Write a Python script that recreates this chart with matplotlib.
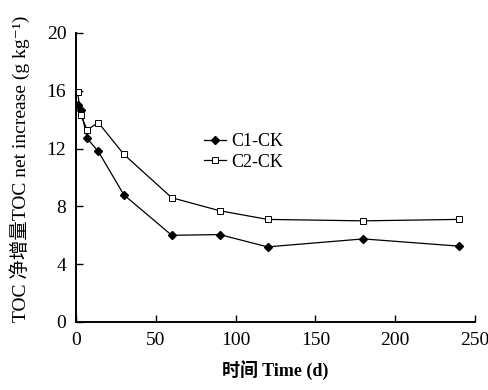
import matplotlib.pyplot as plt

# === Data ===
days = [1, 3, 7, 14, 30, 60, 90, 120, 180, 240]
c1_ck = [15.0, 14.7, 12.7, 11.8, 8.8, 6.0, 6.05, 5.2, 5.75, 5.25]
c2_ck = [15.9, 14.3, 13.3, 13.8, 11.6, 8.6, 7.7, 7.1, 7.0, 7.1]

x_ticks = [0, 50, 100, 150, 200, 250]
y_ticks = [0, 4, 8, 12, 16, 20]

FONTS = ["Liberation Serif", "Noto Sans CJK SC", "DejaVu Sans"]
plt.rcParams.update({
    "font.family": FONTS,
    "font.size": 12,
})

fig = plt.figure(figsize=(4.89, 3.90), dpi=100)
ax = fig.add_axes([76 / 489, 1 - 322 / 390, 399 / 489, 289 / 390])

ax.plot(days, c1_ck, color="black", lw=0.9, marker="D", ms=4.5,
        mfc="black", mec="black", label="C1-CK")
ax.plot(days, c2_ck, color="black", lw=0.9, marker="s", ms=4.5,
        mfc="white", mec="black", mew=0.7, label="C2-CK")

ax.set_xlim(0, 250)
ax.set_ylim(0, 20)
ax.set_xticks(x_ticks)
ax.set_yticks(y_ticks)
ax.tick_params(direction="in", length=5, width=1.0, labelsize=14, pad=7)
ax.spines["top"].set_visible(False)
ax.spines["right"].set_visible(False)
ax.spines["left"].set_linewidth(1.4)
ax.spines["bottom"].set_linewidth(1.4)

ax.set_xlabel("时间 Time (d)", fontsize=13, fontweight="bold", labelpad=8,
              family=FONTS)
ax.set_ylabel("TOC 净增量TOC net increase (g kg⁻¹)", fontsize=14,
              labelpad=5, family=FONTS)
ax.yaxis.set_label_coords(-0.115, 0.53)

ax.legend(loc="upper left", bbox_to_anchor=(0.28, 0.71), frameon=False,
          handlelength=1.2, handletextpad=0.3, labelspacing=0.2, fontsize=13)

plt.savefig("out.png", dpi=100)
plt.close()
